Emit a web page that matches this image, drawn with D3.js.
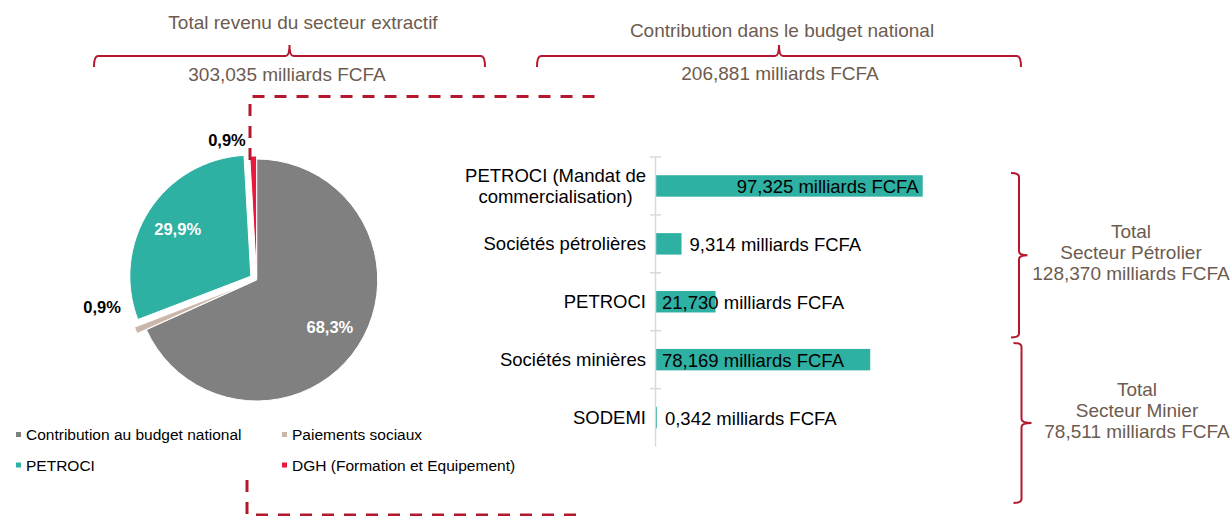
<!DOCTYPE html>
<html>
<head>
<meta charset="utf-8">
<script src="https://cdn.jsdelivr.net/npm/d3@7"></script>
<style>
  body { margin: 0; background: #fff; }
  svg { display: block; font-family: "Liberation Sans", Arial, sans-serif; }
</style>
</head>
<body>
<svg id="chart"></svg>
<script>
// pie : répartition du revenu total du secteur extractif (milliards FCFA)
var pieNames = ['Contribution au budget national', 'Paiements sociaux', 'PETROCI', 'DGH (Formation et Equipement)'];
var pieValues = [206.881, 2.727, 90.700, 2.727];
var pieLabels = ['68,3%', '0,9%', '29,9%', '0,9%'];
var pieColors = ['#808080', '#cbb7a9', '#2eb0a3', '#e8193c'];

// barres : contribution dans le budget national
var barCats = ['PETROCI (Mandat de\ncommercialisation)', 'Sociétés pétrolières', 'PETROCI', 'Sociétés minières', 'SODEMI'];
var barValues = [97.325, 9.314, 21.730, 78.169, 0.342];
var barLabels = ['97,325 milliards FCFA', '9,314 milliards FCFA', '21,730 milliards FCFA', '78,169 milliards FCFA', '0,342 milliards FCFA'];
var barLabelMode = ['insideEnd', 'outsideEnd', 'insideBase', 'insideBase', 'outsideEnd'];

var titleLeft = ['Total revenu du secteur extractif', '303,035 milliards FCFA'];
var titleRight = ['Contribution dans le budget national', '206,881 milliards FCFA'];
var totalPetrole = ['Total', 'Secteur Pétrolier', '128,370 milliards FCFA'];
var totalMinier = ['Total', 'Secteur Minier', '78,511 milliards FCFA'];

var width = 1231,
	height = 516,
	brown = '#6d5b4f',
	crimson = '#b3182f',
	teal = '#2eb0a3';

var svg = d3.select('#chart')
	.attr('width', width)
	.attr('height', height);

// ---------- camembert ----------
var cx = 256.7, cy = 280, radius = 121;
var explode = [0, 10, 7, 3];

var pie = d3.pie().sort(null).value(function (d) { return d; });
var arcs = pie(pieValues);
var arc = d3.arc().innerRadius(0).outerRadius(radius);
var labelArc = d3.arc().innerRadius(radius * 0.72).outerRadius(radius * 0.72);

var pieG = svg.append('g').attr('transform', 'translate(' + cx + ',' + cy + ')');

function offset(d, i) {
	var a = (d.startAngle + d.endAngle) / 2;
	return [Math.sin(a) * explode[i], -Math.cos(a) * explode[i]];
}

pieG.selectAll('path.slice').data(arcs)
	.enter().append('path')
		.attr('class', 'slice')
		.attr('d', arc)
		.attr('fill', function (d, i) { return pieColors[i]; })
		.attr('stroke', '#fff')
		.attr('stroke-width', 1)
		.attr('transform', function (d, i) {
			var o = offset(d, i);
			return 'translate(' + o[0] + ',' + o[1] + ')';
		});

// étiquettes intérieures (grosses parts)
pieG.selectAll('text.inner').data(arcs.filter(function (d) { return d.value > 20; }))
	.enter().append('text')
		.attr('class', 'inner')
		.attr('transform', function (d) {
			var i = d.index, c = labelArc.centroid(d), o = offset(d, i);
			return 'translate(' + (c[0] + o[0]) + ',' + (c[1] + o[1]) + ')';
		})
		.attr('text-anchor', 'middle')
		.attr('dy', '0.35em')
		.attr('fill', '#fff')
		.style('font-weight', 'bold')
		.style('font-size', '16.5px')
		.text(function (d) { return pieLabels[d.index]; });

// étiquettes extérieures (petites parts), placées comme dans Excel
var outsidePos = { 1: [260, 157], 3: [348, 143] };
pieG.selectAll('text.outer').data(arcs.filter(function (d) { return d.value < 20; }))
	.enter().append('text')
		.attr('class', 'outer')
		.attr('x', function (d) {
			var p = outsidePos[d.index];
			return Math.sin(p[0] * Math.PI / 180) * p[1];
		})
		.attr('y', function (d) {
			var p = outsidePos[d.index];
			return -Math.cos(p[0] * Math.PI / 180) * p[1];
		})
		.attr('text-anchor', 'middle')
		.attr('dy', '0.35em')
		.attr('fill', '#000')
		.style('font-weight', 'bold')
		.style('font-size', '16.5px')
		.text(function (d) { return pieLabels[d.index]; });

// légende
var legend = svg.append('g').style('font-size', '15.5px');
legend.selectAll('g').data(pieNames)
	.enter().append('g')
		.attr('transform', function (d, i) {
			return 'translate(' + (i % 2 === 0 ? 16 : 282) + ',' + (i < 2 ? 435 : 465.5) + ')';
		})
		.each(function (d, i) {
			var g = d3.select(this);
			g.append('rect').attr('x', 0).attr('y', -3).attr('width', 5).attr('height', 5).attr('fill', pieColors[i]);
			g.append('text').attr('x', 10).attr('dy', '0.35em').attr('fill', '#000').text(d);
		});

// ---------- barres ----------
var x = d3.scaleLinear().domain([0, 97.325]).range([656, 922.7]);
var y = d3.scaleBand().domain(barCats).range([157, 446.5]).paddingInner(0.63).paddingOuter(0.315);
var step = y.step();

svg.selectAll('rect.bar').data(barValues)
	.enter().append('rect')
		.attr('class', 'bar')
		.attr('x', x(0))
		.attr('y', function (d, i) { return y(barCats[i]); })
		.attr('width', function (d) { return x(d) - x(0); })
		.attr('height', y.bandwidth())
		.attr('fill', teal);

var axisG = svg.append('g');
axisG.append('line')
	.attr('x1', x(0) - 0.5).attr('x2', x(0) - 0.5)
	.attr('y1', y.range()[0]).attr('y2', y.range()[1])
	.attr('stroke', '#d9d9d9').attr('stroke-width', 1.5);
axisG.selectAll('line.tick').data(barCats)
	.enter().append('line')
		.attr('class', 'tick')
		.attr('x1', x(0) - 6).attr('x2', x(0) + 5)
		.attr('y1', function (d) { return y(d) + y.bandwidth() / 2 - step / 2; })
		.attr('y2', function (d) { return y(d) + y.bandwidth() / 2 - step / 2; })
		.attr('stroke', '#d9d9d9').attr('stroke-width', 1.5);

svg.selectAll('text.val').data(barValues)
	.enter().append('text')
		.attr('class', 'val')
		.attr('x', function (d, i) {
			if (barLabelMode[i] === 'insideEnd') return x(d) - 4;
			if (barLabelMode[i] === 'insideBase') return x(0) + 6;
			return x(d) + 8;
		})
		.attr('y', function (d, i) { return y(barCats[i]) + y.bandwidth() / 2 + 1; })
		.attr('dy', '0.35em')
		.attr('text-anchor', function (d, i) { return barLabelMode[i] === 'insideEnd' ? 'end' : 'start'; })
		.attr('fill', '#000')
		.style('font-size', '18.5px')
		.text(function (d, i) { return barLabels[i]; });

// catégories (centrées quand sur deux lignes, alignées à droite sur l'axe)
svg.selectAll('text.cat').data(barCats)
	.enter().append('text')
		.attr('class', 'cat')
		.attr('text-anchor', 'middle')
		.attr('fill', '#000')
		.style('font-size', '18.5px')
		.each(function (d) {
			var t = d3.select(this), lines = d.split('\n');
			lines.forEach(function (l, k) {
				t.append('tspan').attr('x', 0)
					.attr('y', (k - (lines.length - 1) / 2) * 21.7)
					.attr('dy', '0.35em')
					.text(l);
			});
			var w = this.getBBox().width;
			t.attr('transform', 'translate(' + (646 - w / 2) + ',' + (y(d) + y.bandwidth() / 2) + ')');
		});

// ---------- accolades et titres ----------
function braceTop(x1, x2, yl) {
	var xm = (x1 + x2) / 2;
	return 'M' + x1 + ',' + (yl + 11) + 'Q' + x1 + ',' + yl + ' ' + (x1 + 4) + ',' + yl +
		'L' + (xm - 4) + ',' + yl + 'Q' + xm + ',' + yl + ' ' + xm + ',' + (yl - 11) +
		'Q' + xm + ',' + yl + ' ' + (xm + 4) + ',' + yl +
		'L' + (x2 - 4) + ',' + yl + 'Q' + x2 + ',' + yl + ' ' + x2 + ',' + (yl + 11);
}
function braceRight(y1, y2, xl, tip) {
	var ym = (y1 + y2) / 2;
	return 'M' + (xl - 8) + ',' + y1 + 'Q' + xl + ',' + y1 + ' ' + xl + ',' + (y1 + 4) +
		'L' + xl + ',' + (ym - 4) + 'Q' + xl + ',' + ym + ' ' + (xl + tip) + ',' + ym +
		'Q' + xl + ',' + ym + ' ' + xl + ',' + (ym + 4) +
		'L' + xl + ',' + (y2 - 4) + 'Q' + xl + ',' + y2 + ' ' + (xl - 8) + ',' + y2;
}

var braces = svg.append('g').attr('fill', 'none').attr('stroke', crimson).attr('stroke-width', 2);
braces.append('path').attr('d', braceTop(94, 485, 56));
braces.append('path').attr('d', braceTop(537, 1021, 56));
braces.append('path').attr('d', braceRight(173, 337.5, 1019, 8.5));
braces.append('path').attr('d', braceRight(343, 503, 1021.5, 10));

function titleBlock(lines, xs, ys) {
	svg.append('g').selectAll('text').data(lines)
		.enter().append('text')
			.attr('x', function (d, i) { return xs[i]; })
			.attr('y', function (d, i) { return ys[i]; })
			.attr('dy', '0.35em')
			.attr('text-anchor', 'middle')
			.attr('fill', brown)
			.style('font-size', '19px')
			.text(function (d) { return d; });
}
titleBlock(titleLeft, [303, 287], [22, 74]);
titleBlock(titleRight, [782, 780], [30, 73]);
titleBlock(totalPetrole, [1131, 1131, 1131], [231, 252, 273]);
titleBlock(totalMinier, [1137, 1137, 1137], [389.5, 410.5, 431.5]);

// pointillés reliant le camembert aux barres
var dash = svg.append('g').attr('fill', 'none').attr('stroke', crimson)
	.attr('stroke-width', 3).attr('stroke-dasharray', '12,10');
dash.append('path').attr('d', 'M250,160V96.5H595');
dash.append('path').attr('d', 'M247,480V515H585');
</script>
</body>
</html>
